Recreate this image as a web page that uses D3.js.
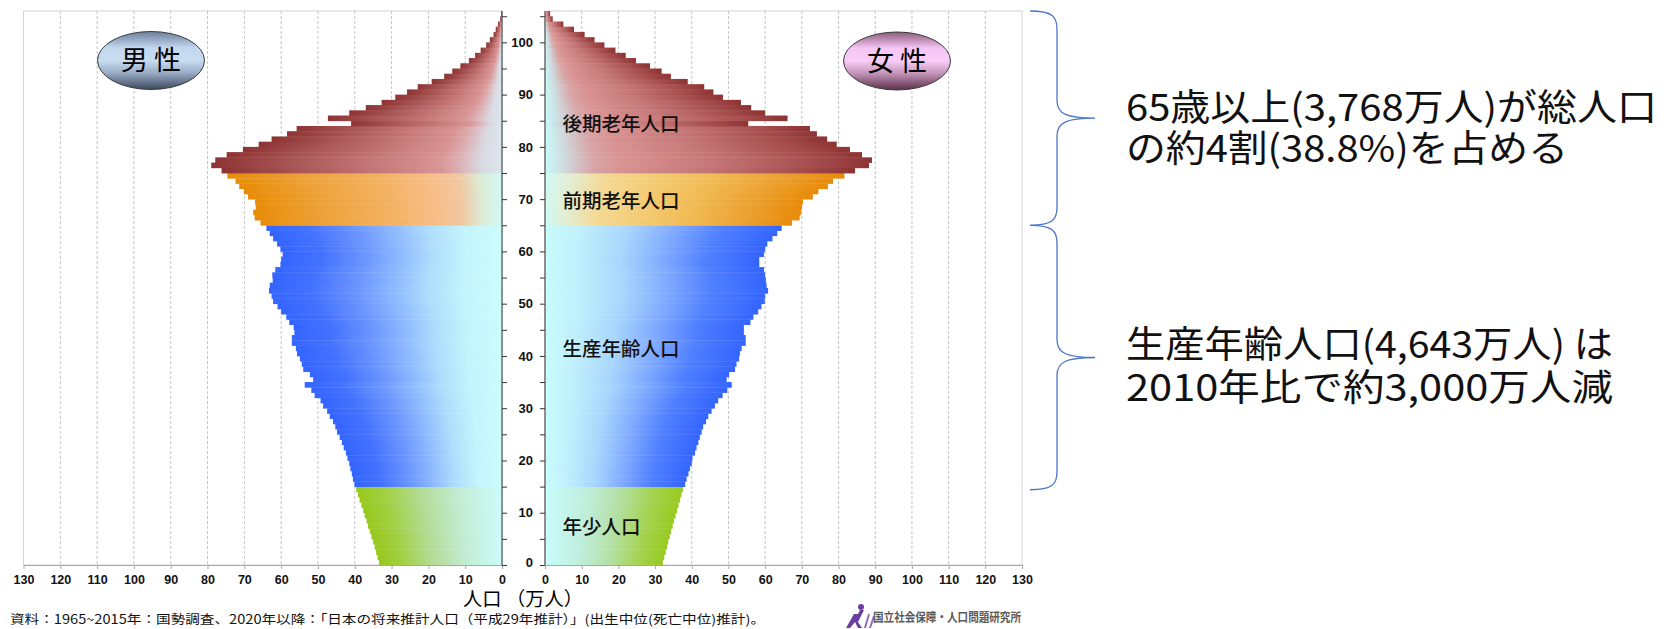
<!DOCTYPE html>
<html><head><meta charset="utf-8">
<script src="https://cdn.jsdelivr.net/npm/d3@7"></script>
<style>
html,body{margin:0;padding:0;background:#fff;}
svg{display:block;}
</style></head>
<body>
<svg id="chart" width="1673" height="629"></svg>
<script>
// Single-year ages 0..105 (105 = 105 and over)
const ages = d3.range(0, 106);

// Population by age, 10,000 persons (万人)
const male = [
  33.4, 33.8, 34.2, 34.6, 35.0, 35.5, 35.9, 36.4, 36.8, 37.3, 37.7, 38.2, 38.7, 39.1, 39.6,
  40.1, 40.5, 40.8, 41.2, 41.5, 42.0, 42.4, 43.0, 43.5, 44.1,
  44.8, 45.3, 45.9, 46.8, 47.5, 48.6, 49.3, 50.9, 51.8, 53.6,
  51.3, 52.2, 54.0, 54.4, 54.9, 55.7, 56.0, 57.1, 57.1, 56.4,
  56.6, 57.8, 58.6, 60.0, 61.0, 62.2, 62.6, 63.3, 63.1, 62.3,
  62.4, 61.6, 60.2, 60.0, 59.6, 60.2, 61.1, 62.2, 63.1, 64.0,
  65.6, 67.2, 67.6, 66.9, 67.1, 69.0, 70.1, 71.4, 72.4, 74.6,
  76.2, 79.0, 77.9, 74.8, 70.4, 66.1, 62.6, 58.4, 55.8, 41.0,
  47.3, 41.5, 37.0, 32.7, 29.0, 25.8, 22.9, 19.1, 15.7, 13.5,
  11.3, 9.0, 7.3, 5.8, 4.3, 3.3, 2.3, 1.7, 1.1, 0.5, 0.2
];
const female = [
  32.1, 32.5, 32.9, 33.3, 33.6, 34.0, 34.4, 34.8, 35.2, 35.6, 36.0, 36.4, 36.8, 37.2, 37.6,
  38.2, 38.6, 39.1, 39.5, 40.0, 40.2, 40.9, 41.3, 41.8, 42.2,
  42.7, 43.1, 43.9, 44.5, 45.4, 46.3, 47.2, 48.4, 49.7, 50.9,
  49.5, 50.2, 51.8, 52.2, 52.9, 53.1, 53.6, 54.7, 54.7, 54.2,
  54.2, 56.0, 56.8, 58.1, 59.0, 59.9, 60.0, 60.8, 60.4, 60.2,
  60.0, 59.7, 58.4, 58.4, 59.7, 60.0, 60.6, 62.0, 63.3, 64.5,
  67.3, 69.4, 69.8, 70.0, 70.3, 73.0, 74.5, 77.1, 78.5, 81.6,
  84.5, 88.3, 89.1, 86.4, 83.1, 79.5, 76.9, 74.1, 72.2, 55.4,
  66.1, 60.0, 56.2, 53.4, 48.5, 45.9, 43.4, 38.9, 34.3, 31.8,
  28.6, 24.8, 22.0, 19.2, 16.2, 13.5, 10.8, 7.9, 5.0, 2.1, 1.4
];

// Age-group boundaries: 0-14 / 15-64 / 65-74 / 75+
const groupKeys = ["young", "work", "early", "late"];
const groupStarts = [0, 15, 65, 75];
const groupNames = ["年少人口", "生産年齢人口", "前期老年人口", "後期老年人口"];

const popTicks = d3.range(0, 131, 10);
const ageTicks = d3.range(0, 106, 5);
const ageLabelTicks = d3.range(0, 101, 10);

const sexLabels = ["男 性", "女 性"];
const axisTitle = "人口 （万人）";
const sourceNote = "資料：1965~2015年：国勢調査、2020年以降：「日本の将来推計人口（平成29年推計）」(出生中位(死亡中位)推計)。";
const instituteName = "国立社会保障・人口問題研究所";
const notes = [
  ["65歳以上(3,768万人)が総人口", "の約4割(38.8%)を占める"],
  ["生産年齢人口(4,643万人) は", "2010年比で約3,000万人減"]
];

const JP = "'Noto Sans CJK JP', 'Noto Sans', sans-serif";
const NUM = "'Liberation Sans', Arial, sans-serif";

const svg = d3.select("#chart");
const defs = svg.append("defs");

const y = d3.scaleLinear().domain([0, 106]).range([565, 11]);
const xL = d3.scaleLinear().domain([0, 130]).range([502, 23.5]);
const xR = d3.scaleLinear().domain([0, 130]).range([545, 1022]);

const groupOf = a => a >= groupStarts[3] ? "late" : a >= groupStarts[2] ? "early" : a >= groupStarts[1] ? "work" : "young";

// Gradient stops listed from the axis side (offset 0) to the outer end (offset 1)
const gradStops = {
  male: {
    late:  [[0, "#dde5ee"], [0.07, "#d9dbe2"], [0.15, "#dcb0b4"], [0.22, "#d99494"], [0.32, "#d08888"], [0.5, "#c07070"], [0.72, "#a85656"], [1, "#8e3333"]],
    early: [[0, "#d0f9f2"], [0.08, "#dcebd6"], [0.16, "#f0c8a2"], [0.26, "#f8be8a"], [0.45, "#f3b262"], [0.72, "#eea23a"], [1, "#e88c08"]],
    work:  [[0, "#ccfcfc"], [0.16, "#c4f4fc"], [0.32, "#aedcfc"], [0.47, "#8cb8ff"], [0.62, "#6c96ff"], [0.82, "#4472ff"], [1, "#3364ff"]],
    young: [[0, "#ccfcfc"], [0.3, "#c2ecd2"], [0.55, "#b4dc98"], [0.8, "#a2d044"], [1, "#96c81c"]]
  },
  female: {
    late:  [[0, "#c8fafa"], [0.07, "#d0d6da"], [0.15, "#d8a6a8"], [0.23, "#da9494"], [0.5, "#c67878"], [0.8, "#a85050"], [1, "#8e3333"]],
    early: [[0, "#d0faf4"], [0.08, "#e2eed4"], [0.2, "#f4da96"], [0.4, "#f4ca70"], [0.6, "#f0b850"], [0.8, "#eca030"], [1, "#e88a08"]],
    work:  [[0, "#c8fcfc"], [0.15, "#c0f0fc"], [0.35, "#a8d6fc"], [0.55, "#80aaff"], [0.75, "#5080ff"], [1, "#3364ff"]],
    young: [[0, "#c8fcfc"], [0.3, "#c0eedc"], [0.55, "#b4e0a4"], [0.8, "#a4d24c"], [1, "#98ca20"]]
  }
};

Object.entries(gradStops).forEach(([sex, groups]) => {
  Object.entries(groups).forEach(([g, stops]) => {
    const lg = defs.append("linearGradient")
      .attr("id", `g-${sex}-${g}`)
      .attr("x1", 0).attr("y1", 0).attr("y2", 0)
      .attr("x2", 1);
    // male bars run leftwards from the axis, so the axis side is at x=1
    const ordered = sex === "male" ? stops.map(([o, c]) => [1 - o, c]).reverse() : stops;
    lg.selectAll("stop").data(ordered).join("stop")
      .attr("offset", d => d[0]).attr("stop-color", d => d[1]);
  });
});

// Ellipse badges
const badge = [
  {id: "b-male", stops: [[0, "#6a7e99"], [0.28, "#c2d6ee"], [0.5, "#c8dcf2"], [0.72, "#97aac4"], [1, "#3b495d"]]},
  {id: "b-female", stops: [[0, "#8c5b7a"], [0.28, "#f6c6f6"], [0.5, "#f8ccf8"], [0.72, "#c292b6"], [1, "#5a2f48"]]}
];
badge.forEach(b => {
  const lg = defs.append("linearGradient").attr("id", b.id)
    .attr("x1", 0).attr("x2", 0).attr("y1", 0).attr("y2", 1);
  lg.selectAll("stop").data(b.stops).join("stop")
    .attr("offset", d => d[0]).attr("stop-color", d => d[1]);
});

// Panel frames and grid
const panels = [{sex: "male", x: xL, data: male}, {sex: "female", x: xR, data: female}];
panels.forEach(p => {
  const [r0, r1] = p.x.range();
  const left = Math.min(r0, r1), right = Math.max(r0, r1);
  svg.append("rect")
    .attr("x", left).attr("y", y(106)).attr("width", right - left).attr("height", y(0) - y(106))
    .attr("fill", "#fff").attr("stroke", "#d4d4d4").attr("stroke-width", 1);
  svg.append("g").selectAll("line").data(popTicks.filter(t => t > 0 && t < 130)).join("line")
    .attr("x1", d => p.x(d)).attr("x2", d => p.x(d))
    .attr("y1", y(106)).attr("y2", y(0))
    .attr("stroke", "#c4c4c4").attr("stroke-width", 1).attr("stroke-dasharray", "3,2");
});

// Bars
panels.forEach(p => {
  const x0 = p.x(0);
  svg.append("g").selectAll("rect").data(ages).join("rect")
    .attr("x", a => Math.min(x0, p.x(p.data[a])))
    .attr("width", a => Math.abs(p.x(p.data[a]) - x0))
    .attr("y", a => y(a + 1))
    .attr("height", a => y(a) - y(a + 1) + 0.4)
    .attr("fill", a => `url(#g-${p.sex}-${groupOf(a)})`);
});

// Bottom axes
panels.forEach(p => {
  const ax = svg.append("g").attr("transform", `translate(0,${y(0)})`)
    .call(d3.axisBottom(p.x).tickValues(popTicks).tickSize(4).tickPadding(6).tickSizeOuter(0));
  ax.select(".domain").attr("stroke", "#a8a8a8");
  ax.selectAll(".tick line").attr("stroke", "#a8a8a8");
  ax.selectAll("text").attr("font-family", NUM).attr("font-weight", "bold")
    .attr("font-size", 12.5).attr("fill", "#111");
});

// Inner age axes
const ageAxisR = svg.append("g").attr("transform", `translate(${xR(0)},0)`)
  .call(d3.axisLeft(y).tickValues(ageTicks).tickSize(5).tickPadding(7).tickSizeOuter(0)
    .tickFormat(d => ageLabelTicks.includes(d) ? d : ""));
ageAxisR.select(".domain").attr("stroke", "#333").attr("d", `M0,${y(106)}V${y(0)}`);
ageAxisR.selectAll(".tick line").attr("stroke", "#333");
ageAxisR.selectAll("text").attr("font-family", NUM).attr("font-weight", "bold")
  .attr("font-size", 13).attr("fill", "#111");
// the "0" age label sits just above the bottom axis labels
ageAxisR.selectAll(".tick text").filter(d => d === 0).attr("dy", "0.1em");

const ageAxisL = svg.append("g").attr("transform", `translate(${xL(0)},0)`)
  .call(d3.axisRight(y).tickValues(ageTicks).tickSize(5).tickSizeOuter(0).tickFormat(""));
ageAxisL.select(".domain").attr("stroke", "#1f3b3b").attr("d", `M0,${y(106)}V${y(0)}`);
ageAxisL.selectAll(".tick line").attr("stroke", "#333");

// Age-group labels in the female panel
const groupLabelAges = {late: 84.4, early: 69.7, work: 41.3, young: 7.3};
svg.append("g").selectAll("text").data(groupKeys).join("text")
  .attr("x", xR(4.8))
  .attr("y", k => y(groupLabelAges[k]))
  .attr("dy", "0.36em")
  .attr("font-family", JP).attr("font-size", 19.5).attr("font-weight", 500)
  .attr("fill", "#111")
  .text(k => groupNames[groupKeys.indexOf(k)]);

// Sex badges
[{cx: 151, cy: 60.5, id: "b-male", t: sexLabels[0]}, {cx: 897, cy: 61, id: "b-female", t: sexLabels[1]}].forEach(b => {
  svg.append("ellipse").attr("cx", b.cx).attr("cy", b.cy).attr("rx", 53.5).attr("ry", 29)
    .attr("fill", `url(#${b.id})`).attr("stroke", "#3a3a3a").attr("stroke-width", 1);
  svg.append("text").attr("x", b.cx).attr("y", b.cy).attr("dy", "0.36em")
    .attr("text-anchor", "middle").attr("font-family", JP).attr("font-size", 27)
    .attr("fill", "#000").text(b.t);
});

// Axis title and source note
svg.append("text").attr("x", 523).attr("y", 599).attr("dy", "0.36em")
  .attr("text-anchor", "middle").attr("font-family", JP).attr("font-size", 19)
  .attr("textLength", 120).attr("lengthAdjust", "spacingAndGlyphs")
  .attr("fill", "#000").text(axisTitle);
svg.append("text").attr("x", 10).attr("y", 619).attr("dy", "0.36em")
  .attr("font-family", JP).attr("font-size", 12.5)
  .attr("textLength", 755).attr("lengthAdjust", "spacingAndGlyphs")
  .attr("fill", "#111").text(sourceNote);

// Institute mark
const logo = svg.append("g").attr("transform", "translate(844,604)");
logo.append("circle").attr("cx", 17).attr("cy", 3).attr("r", 3).attr("fill", "#6b3fa0");
logo.append("path").attr("d", "M2,24 L10,10 L14,10 L16,6 L20,6 L14,18 L18,24 L14,24 L11,18 L6,24 Z").attr("fill", "#6b3fa0");
logo.append("path").attr("d", "M20,24 L24,10 L26,10 L22,24 Z M25,24 L29,12 L31,12 L27,24 Z").attr("fill", "#8f6cc0");
svg.append("text").attr("x", 873).attr("y", 617).attr("dy", "0.36em")
  .attr("font-family", JP).attr("font-size", 12.5).attr("font-weight", 700)
  .attr("textLength", 148).attr("lengthAdjust", "spacingAndGlyphs")
  .attr("fill", "#5a5a5a").text(instituteName);

// Braces
function brace(top, bottom, xl, xv, xt) {
  const mid = (top + bottom) / 2;
  const r = 18;
  return `M${xl},${top} C${xv - 4},${top} ${xv},${top + 6} ${xv},${top + r}`
    + ` L${xv},${mid - r} C${xv},${mid - 4} ${xv + 10},${mid} ${xt},${mid}`
    + ` C${xv + 10},${mid} ${xv},${mid + 4} ${xv},${mid + r}`
    + ` L${xv},${bottom - r} C${xv},${bottom - 6} ${xv - 4},${bottom} ${xl},${bottom}`;
}
const braceSpans = [[y(106), y(65)], [y(65), y(14.4)]];
svg.append("g").selectAll("path").data(braceSpans).join("path")
  .attr("d", d => brace(d[0], d[1], 1030, 1057, 1095))
  .attr("fill", "none").attr("stroke", "#4a76c6").attr("stroke-width", 1.3);

// Annotation text: each note is one two-line text block
const noteLayout = [
  {ys: [108, 149], widths: [531, 442]},
  {ys: [345, 388], widths: [487, 487]}
];
notes.forEach((lines, i) => {
  const t = svg.append("text")
    .attr("font-family", JP).attr("font-size", 37).attr("fill", "#111");
  lines.forEach((line, j) => {
    t.append("tspan").attr("x", 1126).attr("y", noteLayout[i].ys[j]).attr("dy", "0.36em")
      .attr("textLength", noteLayout[i].widths[j]).attr("lengthAdjust", "spacingAndGlyphs")
      .text(line);
  });
});
</script>
</body></html>
